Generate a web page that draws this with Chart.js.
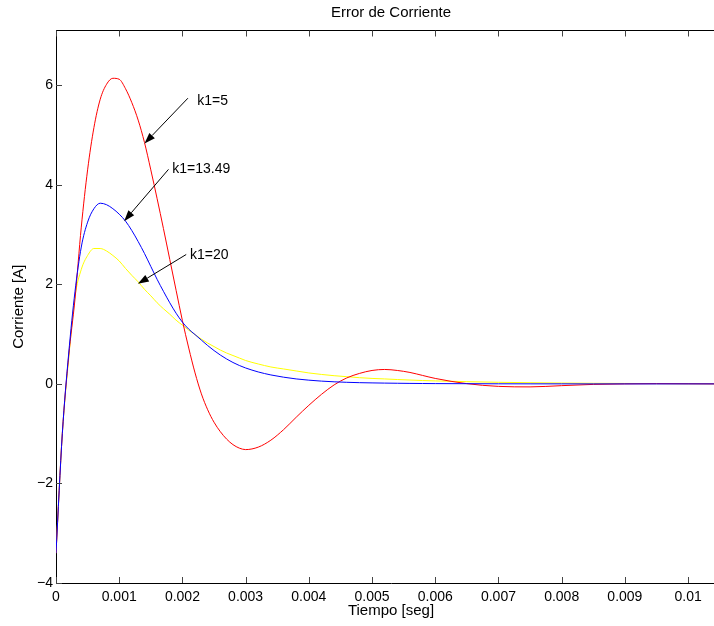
<!DOCTYPE html>
<html>
<head>
<meta charset="utf-8">
<script src="https://cdn.jsdelivr.net/npm/chart.js@4/dist/chart.umd.min.js"></script>
<style>
  html, body { margin: 0; background: #fff; overflow: hidden; }
  /* the axes run a bit past the right edge of the picture, so the canvas is wider than the window */
  canvas { display: block; }
</style>
</head>
<body>
<canvas id="errorChart" width="726" height="626"></canvas>
<script>
// tiempo [seg]
var tiempo = [0, 0.0001, 0.0002, 0.0003, 0.0004, 0.0005, 0.0006, 0.0007, 0.0008, 0.0009, 0.001,
  0.0011, 0.0012, 0.0013, 0.0014, 0.0015, 0.0016, 0.0017, 0.0018, 0.0019, 0.002,
  0.0021, 0.0022, 0.0023, 0.0024, 0.0025, 0.0026, 0.0027, 0.0028, 0.0029, 0.003,
  0.0032, 0.0034, 0.0036, 0.0038, 0.004, 0.0042, 0.0044, 0.0046, 0.0048, 0.005,
  0.0052, 0.0054, 0.0056, 0.0058, 0.006,
  0.0065, 0.007, 0.0075, 0.008, 0.0085, 0.009, 0.0095, 0.01, 0.0105, 0.011];

// corriente para k1=5
var k1_5 = [-3.4, -1.0, 0.55, 1.7, 3.15, 4.3, 5.15, 5.72, 6.02, 6.14, 6.12,
  5.93, 5.65, 5.3, 4.85, 4.3, 3.72, 3.12, 2.5, 1.88, 1.27,
  0.72, 0.22, -0.2, -0.52, -0.77, -0.96, -1.11, -1.22, -1.29, -1.32,
  -1.27, -1.13, -0.92, -0.67, -0.43, -0.21, -0.02, 0.12, 0.21, 0.27,
  0.29, 0.27, 0.23, 0.17, 0.11,
  0.005, -0.05, -0.06, -0.035, -0.01, 0.0, 0.005, 0.003, 0.0, 0.0];

// corriente para k1=13.49
var k1_1349 = [-3.4, -1.0, 0.6, 1.85, 2.75, 3.25, 3.52, 3.63, 3.6, 3.52, 3.41,
  3.27, 3.08, 2.86, 2.62, 2.36, 2.1, 1.86, 1.63, 1.42, 1.24,
  1.1, 0.99, 0.88, 0.77, 0.67, 0.58, 0.5, 0.43, 0.37, 0.32,
  0.24, 0.18, 0.135, 0.1, 0.075, 0.056, 0.042, 0.032, 0.025, 0.02,
  0.016, 0.013, 0.01, 0.008, 0.006,
  0.004, 0.002, 0.001, 0.001, 0, 0, 0, 0, 0, 0];

// corriente para k1=20
var k1_20 = [-3.4, -1.0, 0.5, 1.75, 2.3, 2.58, 2.72, 2.72, 2.67, 2.58, 2.47,
  2.32, 2.18, 2.05, 1.9, 1.77, 1.63, 1.51, 1.4, 1.28, 1.18,
  1.08, 0.99, 0.9, 0.82, 0.75, 0.68, 0.62, 0.57, 0.52, 0.47,
  0.4, 0.34, 0.3, 0.26, 0.22, 0.19, 0.165, 0.145, 0.125, 0.11,
  0.1, 0.088, 0.078, 0.068, 0.06,
  0.045, 0.032, 0.024, 0.017, 0.012, 0.009, 0.006, 0.004, 0.003, 0.002];

// etiquetas con flecha (en unidades de datos)
var notas = ['k1=5', 'k1=13.49', 'k1=20'];
var notaX = [0.002235, 0.00184, 0.00212];
var notaY = [5.68, 4.31, 2.58];
var colaX = [0.002087, 0.00178, 0.00206];
var colaY = [5.74, 4.31, 2.6];
var puntaX = [0.0014, 0.001078, 0.001295];
var puntaY = [4.83, 3.27, 2.01];

var titulo = 'Error de Corriente';

function puntos(valores) {
  return valores.map(function (v, i) { return { x: tiempo[i], y: v }; });
}

var fuente = 'Liberation Sans, Arial, Helvetica, sans-serif';

// titulo, marcas de eje hacia adentro, caja superior y flechas
var extras = {
  id: 'extras',
  afterDatasetsDraw: function (chart) {
    var ctx = chart.ctx;
    var a = chart.chartArea;
    var sx = chart.scales.x;
    var sy = chart.scales.y;
    ctx.save();
    ctx.fillStyle = '#000';
    ctx.font = '15px ' + fuente;
    ctx.textAlign = 'center';
    ctx.textBaseline = 'middle';
    ctx.fillText(titulo, (a.left + a.right) / 2, 13);

    ctx.strokeStyle = '#000';
    ctx.lineWidth = 1;
    ctx.beginPath();
    ctx.moveTo(a.left, a.top);
    ctx.lineTo(a.right, a.top);
    ctx.lineTo(a.right, a.bottom);
    ctx.stroke();
    ctx.strokeStyle = '#444';
    sx.ticks.forEach(function (t) {
      var px = Math.round(sx.getPixelForValue(t.value)) + 0.5;
      ctx.beginPath();
      ctx.moveTo(px, a.bottom); ctx.lineTo(px, a.bottom - 6);
      ctx.moveTo(px, a.top); ctx.lineTo(px, a.top + 6);
      ctx.stroke();
    });
    sy.ticks.forEach(function (t) {
      var py = Math.round(sy.getPixelForValue(t.value)) + 0.5;
      ctx.beginPath();
      ctx.moveTo(a.left, py); ctx.lineTo(a.left + 6, py);
      ctx.moveTo(a.right, py); ctx.lineTo(a.right - 6, py);
      ctx.stroke();
    });

    ctx.strokeStyle = '#000';
    ctx.fillStyle = '#000';
    ctx.font = '14px ' + fuente;
    ctx.textBaseline = 'middle';
    ctx.textAlign = 'left';
    for (var i = 0; i < notas.length; i++) {
      var x0 = sx.getPixelForValue(colaX[i]), y0 = sy.getPixelForValue(colaY[i]);
      var x1 = sx.getPixelForValue(puntaX[i]), y1 = sy.getPixelForValue(puntaY[i]);
      var ang = Math.atan2(y1 - y0, x1 - x0);
      var largo = 11, ancho = 3.8;
      var bx = x1 - largo * Math.cos(ang), by = y1 - largo * Math.sin(ang);
      ctx.beginPath();
      ctx.moveTo(x0, y0);
      ctx.lineTo(bx, by);
      ctx.stroke();
      ctx.beginPath();
      ctx.moveTo(x1, y1);
      ctx.lineTo(bx + ancho * Math.sin(ang), by - ancho * Math.cos(ang));
      ctx.lineTo(bx - ancho * Math.sin(ang), by + ancho * Math.cos(ang));
      ctx.closePath();
      ctx.fill();
      ctx.fillText(notas[i], sx.getPixelForValue(notaX[i]), sy.getPixelForValue(notaY[i]));
    }
    ctx.restore();
  }
};

var ctx = document.getElementById('errorChart').getContext('2d');
var chart = new Chart(ctx, {
  type: 'line',
  data: {
    datasets: [{
      label: 'k1=13.49',
      data: puntos(k1_1349),
      borderColor: '#0000ff',
      borderWidth: 1
    }, {
      label: 'k1=5',
      data: puntos(k1_5),
      borderColor: '#ff0000',
      borderWidth: 1
    }, {
      label: 'k1=20',
      data: puntos(k1_20),
      borderColor: '#ffff00',
      borderWidth: 1
    }]
  },
  options: {
    responsive: false,
    animation: false,
    devicePixelRatio: 1,
    layout: { padding: { top: 30.5, right: 0, left: 0, bottom: 0 } },
    elements: {
      point: { radius: 0 },
      line: { cubicInterpolationMode: 'monotone', fill: false }
    },
    plugins: {
      legend: { display: false },
      tooltip: { enabled: false },
      title: { display: false }
    },
    scales: {
      x: {
        type: 'linear',
        min: 0,
        max: 0.0106,
        grid: { display: false, drawTicks: false },
        border: { display: true, color: '#000', width: 1 },
        ticks: {
          stepSize: 0.001,
          includeBounds: false,
          color: '#000',
          padding: 6,
          font: { family: fuente, size: 14 },
          callback: function (v) { return String(Number(v.toFixed(4))); }
        },
        title: {
          display: true,
          text: 'Tiempo [seg]',
          color: '#000',
          font: { family: fuente, size: 15 },
          padding: { top: 0, bottom: 6 }
        },
        afterFit: function (s) { s.height = 43; }
      },
      y: {
        min: -4,
        max: 7.1,
        grid: { display: false, drawTicks: false },
        border: { display: true, color: '#000', width: 1 },
        ticks: {
          stepSize: 2,
          includeBounds: false,
          color: '#000',
          padding: 3,
          font: { family: fuente, size: 14 },
          callback: function (v) { return String(v).replace('-', '\u2212'); }
        },
        title: {
          display: true,
          text: 'Corriente [A]',
          color: '#000',
          font: { family: fuente, size: 15 },
          padding: { top: 10, bottom: 0 }
        },
        afterFit: function (s) { s.width = 56; }
      }
    }
  },
  plugins: [extras]
});
</script>
</body>
</html>
